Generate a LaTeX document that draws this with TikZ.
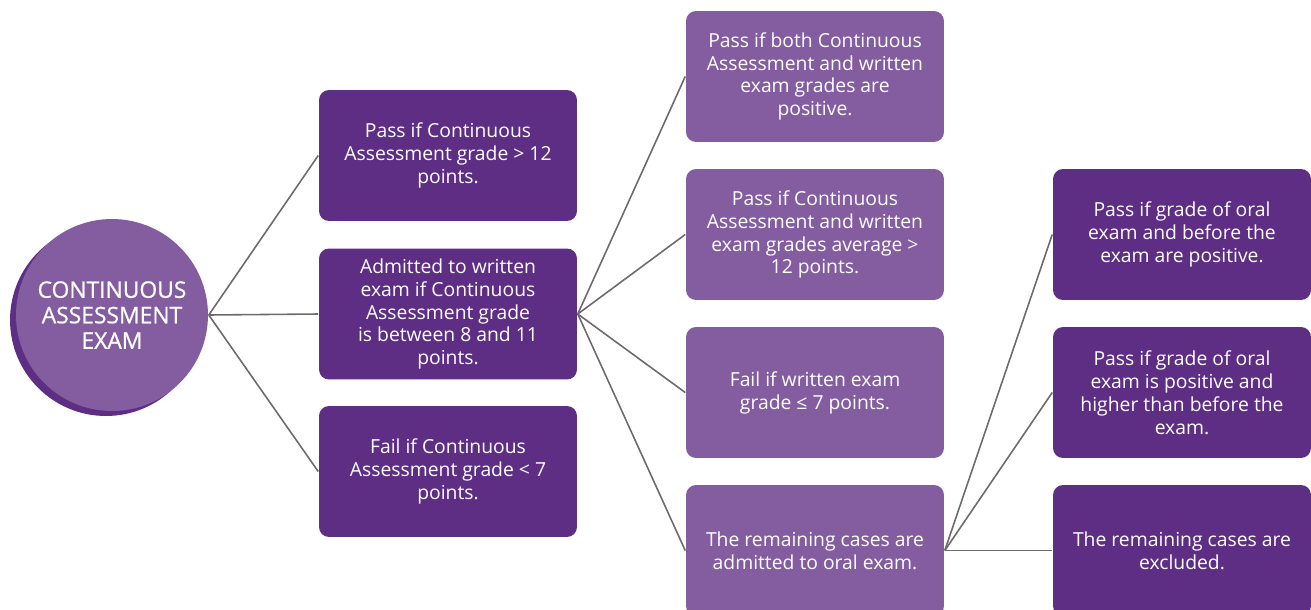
\documentclass[tikz,border=0pt]{standalone}
\usepackage{fontspec}
\setmainfont{Open Sans}
\newfontfamily\hubfont[FakeBold=0.8]{Open Sans}
\usetikzlibrary{positioning}
\definecolor{cdark}{HTML}{5E2E85}
\definecolor{clight}{HTML}{845DA1}
\definecolor{cline}{HTML}{6B6B6B}
\tikzset{
  every picture/.style={line width=0.9pt},
  box/.style={fill=#1, rounded corners=0.2cm, align=center, text=white, minimum width=5.16cm, minimum height=2.62cm, inner sep=0pt, font=\fontsize{11}{13}\selectfont},
  box/.default=cdark,
  hub/.style={circle, fill=clight, minimum size=3.84cm, inner sep=0pt, align=center, text=white, font=\hubfont\fontsize{13}{14.5}\selectfont},
  link/.style={draw=cline},
}
\begin{document}
\begin{tikzpicture}[x=0.02cm, y=-0.02cm]
  \clip (0,0) rectangle (1311,609);
  % centre circle and its shadow
  \fill[cdark] (106,320) circle (1.92cm);
  \node[hub] (exam) at (112,315) {CONTINUOUS\\ASSESSMENT\\EXAM};
  % continuous assessment outcomes
  \node[box] (capass) at (448,155.5) {Pass if Continuous\\Assessment grade > 12\\points.};
  \node[box] (cawritten) at (448,314) {Admitted to written\\exam if Continuous\\Assessment grade\\is between 8 and 11\\points.};
  \node[box] (cafail) at (448,471.5) {Fail if Continuous\\Assessment grade < 7\\points.};
  % written exam outcomes
  \node[box=clight] (wpos) at (815,76.5) {Pass if both Continuous\\Assessment and written\\exam grades are\\positive.};
  \node[box=clight] (wavg) at (815,234.5) {Pass if Continuous\\Assessment and written\\exam grades average >\\12 points.};
  \node[box=clight] (wfail) at (815,392.5) {Fail if written exam\\grade ≤ 7 points.};
  \node[box=clight] (woral) at (815,550.5) {The remaining cases are\\admitted to oral exam.};
  % oral exam outcomes
  \node[box] (opos) at (1182,234.5) {Pass if grade of oral\\exam and before the\\exam are positive.};
  \node[box] (ohigh) at (1182,392.5) {Pass if grade of oral\\exam is positive and\\higher than before the\\exam.};
  \node[box] (oexcl) at (1182,550.5) {The remaining cases are\\excluded.};
  % connectors
  \foreach \n in {capass, cawritten, cafail}
    \draw[link] (exam.east) -- (\n.west);
  \foreach \n in {wpos, wavg, wfail, woral}
    \draw[link] (cawritten.east) -- (\n.west);
  \foreach \n in {opos, ohigh, oexcl}
    \draw[link] (woral.east) -- (\n.west);
\end{tikzpicture}
\end{document}
